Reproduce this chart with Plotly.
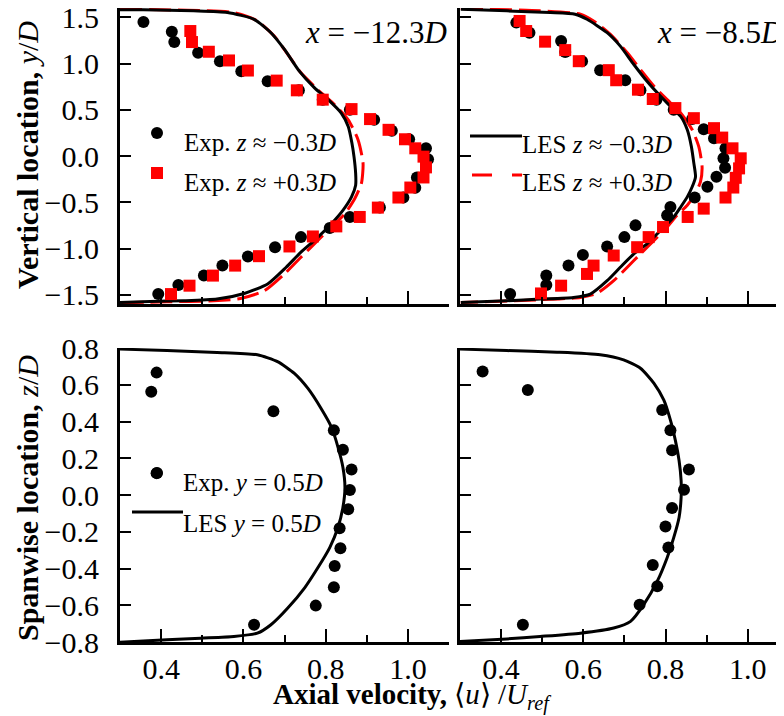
import plotly.graph_objects as go

# ---------------- data ----------------
# Top-left panel, x = -12.3D
tl_exp_neg_u = [0.357, 0.426, 0.432, 0.490, 0.543, 0.595, 0.659, 0.735, 0.793, 0.859, 0.918, 0.961, 1.003, 1.044,
                1.049, 1.022, 1.018, 0.989, 0.932, 0.859, 0.810, 0.740, 0.677, 0.611, 0.549, 0.504, 0.442, 0.393]
tl_exp_neg_y = [1.449, 1.344, 1.232, 1.116, 1.025, 0.917, 0.808, 0.710, 0.609, 0.500, 0.391, 0.272, 0.181, 0.083,
                -0.036, -0.232, -0.344, -0.449, -0.558, -0.659, -0.779, -0.877, -0.986, -1.087, -1.185, -1.293, -1.395, -1.493]
tl_exp_pos_u = [0.471, 0.475, 0.516, 0.565, 0.611, 0.681, 0.730, 0.793, 0.863, 0.908, 0.953, 0.993, 1.018, 1.038,
                1.044, 1.038, 1.006, 0.977, 0.927, 0.883, 0.826, 0.769, 0.712, 0.638, 0.580, 0.526, 0.469, 0.424]
tl_exp_pos_y = [1.351, 1.232, 1.127, 1.033, 0.924, 0.815, 0.710, 0.609, 0.507, 0.399, 0.283, 0.181, 0.083, -0.007,
                -0.123, -0.232, -0.341, -0.449, -0.558, -0.659, -0.761, -0.870, -0.978, -1.083, -1.185, -1.293, -1.402, -1.493]
tl_les_neg_u = [0.300, 0.357, 0.479, 0.561, 0.626, 0.667, 0.700, 0.736, 0.773, 0.806, 0.838, 0.855, 0.864, 0.869,
                0.873, 0.873, 0.863, 0.842, 0.814, 0.777, 0.740, 0.704, 0.659, 0.602, 0.536, 0.455, 0.373, 0.300]
tl_les_neg_y = [1.580, 1.580, 1.569, 1.551, 1.478, 1.333, 1.152, 0.917, 0.736, 0.609, 0.464, 0.319, 0.138, -0.007,
                -0.188, -0.315, -0.442, -0.587, -0.732, -0.895, -1.040, -1.203, -1.384, -1.486, -1.547, -1.565, -1.572, -1.583]
tl_les_pos_u = [0.300, 0.463, 0.577, 0.634, 0.675, 0.708, 0.740, 0.781, 0.822, 0.855, 0.879, 0.891, 0.887, 0.871,
                0.847, 0.814, 0.781, 0.740, 0.700, 0.651, 0.593, 0.528, 0.414, 0.300]
tl_les_pos_y = [1.587, 1.576, 1.551, 1.460, 1.297, 1.098, 0.899, 0.717, 0.554, 0.391, 0.174, -0.080, -0.297, -0.460,
                -0.623, -0.768, -0.913, -1.094, -1.275, -1.457, -1.540, -1.565, -1.576, -1.587]

# Top-right panel, x = -8.5D
tr_exp_neg_u = [0.437, 0.469, 0.546, 0.556, 0.597, 0.641, 0.702, 0.739, 0.778, 0.820, 0.865, 0.893, 0.918, 0.946,
                0.941, 0.945, 0.924, 0.902, 0.871, 0.812, 0.804, 0.727, 0.700, 0.658, 0.599, 0.564, 0.510, 0.510, 0.422]
tr_exp_neg_y = [1.442, 1.333, 1.243, 1.123, 1.025, 0.928, 0.819, 0.710, 0.609, 0.500, 0.399, 0.290, 0.192, 0.083,
                -0.025, -0.127, -0.225, -0.333, -0.449, -0.551, -0.641, -0.750, -0.877, -0.978, -1.069, -1.185, -1.293, -1.395, -1.493]
tr_exp_pos_u = [0.445, 0.461, 0.507, 0.556, 0.589, 0.662, 0.680, 0.733, 0.769, 0.824, 0.869, 0.918, 0.938, 0.963,
                0.983, 0.979, 0.971, 0.965, 0.946, 0.893, 0.854, 0.794, 0.759, 0.731, 0.674, 0.625, 0.609, 0.546, 0.497]
tr_exp_pos_y = [1.460, 1.351, 1.236, 1.145, 1.025, 0.928, 0.819, 0.717, 0.616, 0.518, 0.409, 0.301, 0.199, 0.083,
                -0.025, -0.134, -0.236, -0.341, -0.449, -0.569, -0.659, -0.768, -0.877, -0.986, -1.076, -1.185, -1.275, -1.402, -1.486]
tr_les_neg_u = [0.302, 0.414, 0.520, 0.580, 0.609, 0.658, 0.690, 0.723, 0.755, 0.788, 0.820, 0.837, 0.853, 0.863, 0.869,
                0.873, 0.865, 0.853, 0.837, 0.820, 0.788, 0.755, 0.723, 0.690, 0.658, 0.617, 0.576, 0.495, 0.414, 0.302]
tr_les_neg_y = [1.587, 1.569, 1.551, 1.533, 1.478, 1.333, 1.188, 0.989, 0.808, 0.645, 0.500, 0.428, 0.283, 0.101, -0.080,
                -0.225, -0.333, -0.442, -0.551, -0.659, -0.804, -0.949, -1.058, -1.203, -1.348, -1.493, -1.529, -1.547, -1.565, -1.583]
tr_les_pos_u = [0.302, 0.495, 0.593, 0.625, 0.666, 0.707, 0.739, 0.772, 0.804, 0.837, 0.865, 0.881, 0.889, 0.885, 0.873,
                0.853, 0.828, 0.804, 0.772, 0.739, 0.707, 0.674, 0.633, 0.593, 0.495, 0.302]
tr_les_pos_y = [1.594, 1.569, 1.533, 1.460, 1.315, 1.116, 0.935, 0.754, 0.609, 0.464, 0.283, 0.101, -0.116, -0.279, -0.406,
                -0.533, -0.641, -0.768, -0.913, -1.058, -1.203, -1.348, -1.486, -1.529, -1.554, -1.583]

# Bottom-left panel, x = -12.3D, y = 0.5D
bl_exp_u = [0.389, 0.376, 0.673, 0.820, 0.842, 0.863, 0.859, 0.855, 0.834, 0.836, 0.822, 0.820, 0.776, 0.626, 0.389]
bl_exp_z = [0.666, 0.562, 0.456, 0.352, 0.246, 0.139, 0.027, -0.077, -0.181, -0.290, -0.387, -0.502, -0.602, -0.706, 0.119]
bl_les_u = [0.300, 0.414, 0.536, 0.634, 0.683, 0.724, 0.757, 0.789, 0.814, 0.830, 0.842, 0.847, 0.842, 0.830, 0.810,
            0.781, 0.749, 0.708, 0.667, 0.634, 0.577, 0.496, 0.414, 0.300]
bl_les_z = [0.794, 0.786, 0.776, 0.763, 0.726, 0.662, 0.580, 0.471, 0.370, 0.261, 0.151, 0.042, -0.068, -0.177, -0.286,
            -0.396, -0.505, -0.615, -0.706, -0.752, -0.770, -0.779, -0.788, -0.801]

# Bottom-right panel, x = -8.5D, y = 0.5D
br_exp_u = [0.355, 0.465, 0.792, 0.812, 0.816, 0.857, 0.845, 0.816, 0.800, 0.807, 0.769, 0.780, 0.737, 0.453]
br_exp_z = [0.672, 0.571, 0.462, 0.352, 0.243, 0.139, 0.029, -0.071, -0.172, -0.286, -0.381, -0.496, -0.597, -0.706]
br_les_u = [0.300, 0.414, 0.536, 0.641, 0.698, 0.739, 0.772, 0.796, 0.812, 0.824, 0.833, 0.838, 0.838, 0.833, 0.820,
            0.804, 0.780, 0.747, 0.715, 0.674, 0.593, 0.495, 0.414, 0.300]
br_les_z = [0.794, 0.786, 0.777, 0.763, 0.735, 0.690, 0.608, 0.516, 0.407, 0.297, 0.188, 0.078, -0.013, -0.122, -0.232,
            -0.341, -0.469, -0.597, -0.688, -0.724, -0.752, -0.770, -0.783, -0.797]

top_yticks = [-1.5, -1.0, -0.5, 0.0, 0.5, 1.0, 1.5]
bot_yticks = [-0.8, -0.6, -0.4, -0.2, 0.0, 0.2, 0.4, 0.6, 0.8]
xticks = [0.4, 0.6, 0.8, 1.0]
xminor = [0.5, 0.7, 0.9, 1.1]

# ---------------- figure ----------------
# page body has an 8px margin: figure is sized to fit the 784x716 window
OFF = 8
W, H = 784 - OFF, 716 - OFF
FONT = "Liberation Serif"
RED = "#ff0000"
fig = go.Figure()


def line(u, v, xa, ya, color, dash=None):
    fig.add_trace(go.Scatter(x=u, y=v, xaxis=xa, yaxis=ya, mode="lines", showlegend=False,
                             line=dict(color=color, width=3, dash=dash, shape="spline", smoothing=0.6)))


def pts(u, v, xa, ya, color, symbol, size):
    fig.add_trace(go.Scatter(x=u, y=v, xaxis=xa, yaxis=ya, mode="markers", showlegend=False,
                             marker=dict(color=color, symbol=symbol, size=size, line=dict(width=0))))


DASH = "22px,7px"
# top-left
line(tl_les_pos_u, tl_les_pos_y, "x", "y", RED, DASH)
line(tl_les_neg_u, tl_les_neg_y, "x", "y", "black")
pts(tl_exp_neg_u, tl_exp_neg_y, "x", "y", "black", "circle", 12)
pts(tl_exp_pos_u, tl_exp_pos_y, "x", "y", RED, "square", 12)
# top-right
line(tr_les_pos_u, tr_les_pos_y, "x2", "y2", RED, DASH)
line(tr_les_neg_u, tr_les_neg_y, "x2", "y2", "black")
pts(tr_exp_neg_u, tr_exp_neg_y, "x2", "y2", "black", "circle", 12)
pts(tr_exp_pos_u, tr_exp_pos_y, "x2", "y2", RED, "square", 12)
# bottom-left
line(bl_les_u, bl_les_z, "x3", "y3", "black")
pts(bl_exp_u, bl_exp_z, "x3", "y3", "black", "circle", 12)
# bottom-right
line(br_les_u, br_les_z, "x4", "y4", "black")
pts(br_exp_u, br_exp_z, "x4", "y4", "black", "circle", 12)


def fx(px):
    return (px - OFF) / W


def fy(py):
    return 1 - (py - OFF) / H


xl = [fx(120), fx(449)]
xr = [fx(460), 1.0]
yt = [fy(304), fy(8)]
yb = [fy(642), fy(348)]
right_max = 0.3 + (784 - 460) / 411.0

tickfont = dict(family=FONT, size=30, color="black")


def xaxis(domain, anchor, rng, labels):
    return dict(domain=domain, anchor=anchor, range=rng, showgrid=False, zeroline=False, automargin=False,
                showline=True, linecolor="black", linewidth=3, ticks="inside", ticklen=13, tickwidth=2,
                tickcolor="black", tickvals=xticks, ticktext=["%.1f" % v for v in xticks],
                showticklabels=labels, tickfont=tickfont, ticklabelstandoff=-2, ticklabeloverflow="allow",
                minor=dict(ticks="inside", ticklen=7, tickwidth=2, tickcolor="black",
                           tickvals=xminor, showgrid=False))


def yaxis(domain, anchor, rng, vals, labels):
    return dict(domain=domain, anchor=anchor, range=rng, showgrid=False, zeroline=False, automargin=False,
                showline=True, linecolor="black", linewidth=3, ticks="inside", ticklen=11, tickwidth=2,
                tickcolor="black", tickvals=vals, tickformat=".1f", showticklabels=labels,
                tickfont=tickfont, ticklabelstandoff=12, ticklabeloverflow="allow")


fig.update_layout(
    width=W, height=H, margin=dict(l=0, r=0, t=0, b=0, autoexpand=False),
    paper_bgcolor="white", plot_bgcolor="white", showlegend=False,
    font=dict(family=FONT, color="black"),
    xaxis=xaxis(xl, "y", [0.3, 1.1], False),
    yaxis=yaxis(yt, "x", [-1.6, 1.6], top_yticks, True),
    xaxis2=xaxis(xr, "y2", [0.3, right_max], False),
    yaxis2=yaxis(yt, "x2", [-1.6, 1.6], top_yticks, False),
    xaxis3=xaxis(xl, "y3", [0.3, 1.1], True),
    yaxis3=yaxis(yb, "x3", [-0.8, 0.8], bot_yticks, True),
    xaxis4=xaxis(xr, "y4", [0.3, right_max], True),
    yaxis4=yaxis(yb, "x4", [-0.8, 0.8], bot_yticks, False),
)


def text(px, py, s, size, xanchor="left", angle=0, yanchor="middle"):
    fig.add_annotation(x=fx(px), y=fy(py), xref="paper", yref="paper", text=s, showarrow=False,
                       xanchor=xanchor, yanchor=yanchor, textangle=angle, borderpad=0,
                       font=dict(family=FONT, size=size, color="black"))


# panel labels
text(448, 32, "<i>x</i> = −12.3<i>D</i>", 31, "right")
text(784, 32, "<i>x</i> = −8.5<i>D</i>", 31, "right")

# legend entries
LEG = 25
text(183, 143, "Exp. <i>z</i> ≈ −0.3<i>D</i>", LEG)
text(183, 183, "Exp. <i>z</i> ≈ +0.3<i>D</i>", LEG)
text(521, 145, "LES <i>z</i> ≈ −0.3<i>D</i>", LEG)
text(521, 183, "LES <i>z</i> ≈ +0.3<i>D</i>", LEG)
text(182, 483, "Exp. <i>y</i> = 0.5<i>D</i>", LEG)
text(182, 523, "LES <i>y</i> = 0.5<i>D</i>", LEG)


# legend glyphs
def circ(cx, cy, r, color):
    fig.add_shape(type="circle", xref="paper", yref="paper", x0=fx(cx - r), x1=fx(cx + r),
                  y0=fy(cy + r), y1=fy(cy - r), fillcolor=color, line=dict(width=0))


def sq(cx, cy, r, color):
    fig.add_shape(type="rect", xref="paper", yref="paper", x0=fx(cx - r), x1=fx(cx + r),
                  y0=fy(cy + r), y1=fy(cy - r), fillcolor=color, line=dict(width=0))


def seg(xa, xb, yy, color, dash=None):
    fig.add_shape(type="line", xref="paper", yref="paper", x0=fx(xa), x1=fx(xb), y0=fy(yy), y1=fy(yy),
                  line=dict(color=color, width=3, dash=dash))


circ(157, 133, 6, "black")
sq(157, 173, 6, RED)
seg(470, 522, 136, "black")
seg(472, 522, 175, RED, "20px,20px")
circ(157, 473, 6, "black")
seg(132, 183, 512, "black")

# axis titles
text(27, 155, "<b>Vertical location,</b> <i>y</i>/<i>D</i>", 30, "center", -90)
text(27, 498, "<b>Spanwise location,</b> <i>z</i>/<i>D</i>", 30, "center", -90)
text(412, 716, "<b>Axial velocity,</b> ⟨<i>u</i>⟩ /<i>U<sub>ref</sub></i>", 29, "center", 0, "bottom")

fig.write_html("out.html")
